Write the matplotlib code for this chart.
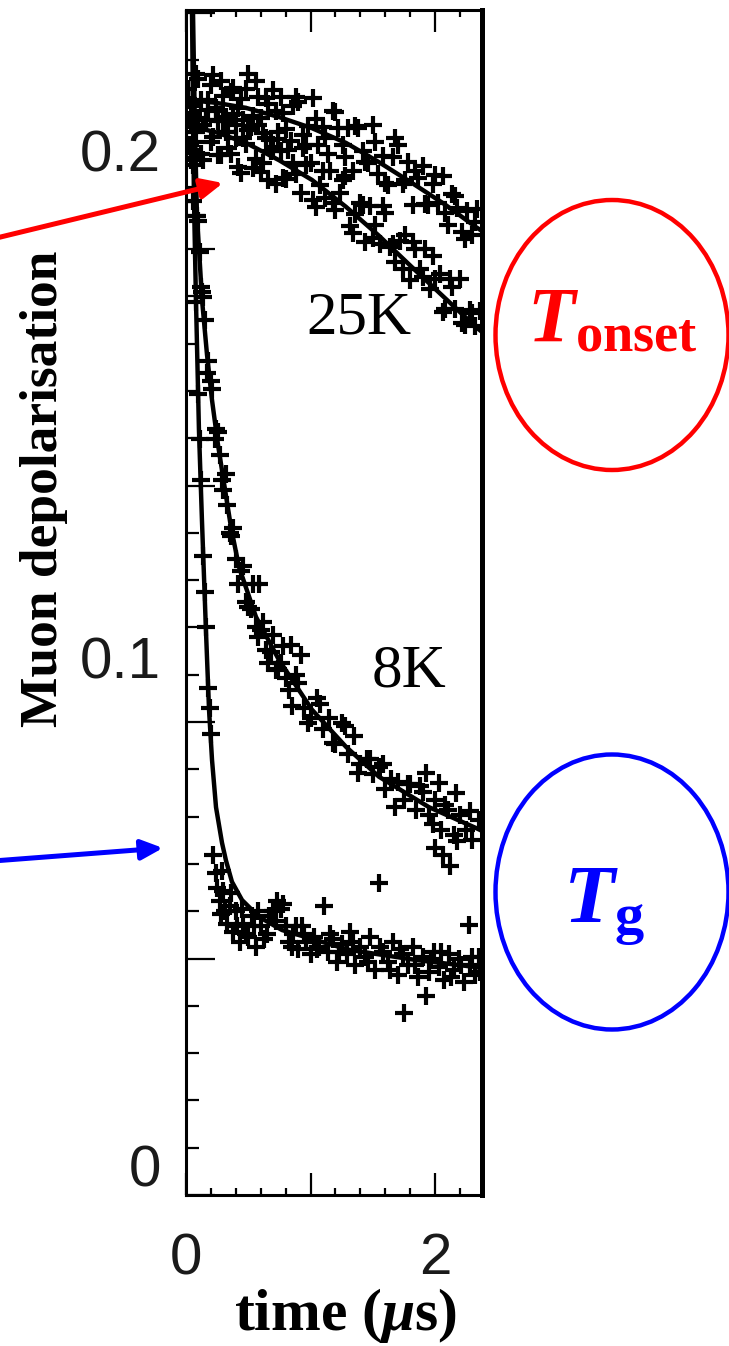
import numpy as np
import matplotlib.pyplot as plt
from matplotlib.patches import Ellipse, FancyArrowPatch
from matplotlib.ticker import FixedLocator, MultipleLocator, FixedFormatter

plt.rcParams['mathtext.fontset'] = 'custom'
plt.rcParams['mathtext.rm'] = 'Liberation Serif'
plt.rcParams['mathtext.bf'] = 'Liberation Serif:bold'
plt.rcParams['mathtext.it'] = 'Liberation Serif:italic'
plt.rcParams['mathtext.bfit'] = 'Liberation Serif:bold:italic'

# ---- data (time in microseconds, depolarisation) ----
# upper curve (slowest relaxation)
t_a = [0.02, 0.06, 0.10, 0.14, 0.18, 0.22, 0.26, 0.30, 0.34, 0.38, 0.42, 0.46, 0.50, 0.54, 0.58,
       0.62, 0.66, 0.70, 0.74, 0.78, 0.82, 0.86, 0.90, 0.94, 0.98, 1.02, 1.06, 1.10, 1.14, 1.18,
       1.22, 1.26, 1.30, 1.34, 1.38, 1.42, 1.46, 1.50, 1.54, 1.58, 1.62, 1.66, 1.70, 1.74, 1.78,
       1.82, 1.86, 1.90, 1.94, 1.98, 2.02, 2.06, 2.10, 2.14, 2.18, 2.22, 2.26, 2.30, 2.34,
       0.04, 0.08, 0.12, 0.16, 0.20, 0.24, 0.28, 0.32, 0.36, 0.40, 0.44, 0.48, 0.52, 0.56, 0.60,
       0.64, 0.68, 0.72, 0.76, 0.80, 0.88, 0.96, 1.04, 1.12, 1.20, 1.28, 1.36, 1.44, 1.52, 1.60,
       1.68, 1.76, 1.84, 1.92, 2.00, 2.08, 2.16, 2.24, 2.32]
y_a = [0.2120, 0.2070, 0.2140, 0.2049, 0.2099, 0.2148, 0.2057, 0.2106, 0.2035, 0.2123, 0.2082,
       0.2060, 0.2149, 0.2067, 0.2105, 0.2033, 0.2090, 0.2118, 0.2035, 0.2073, 0.2000, 0.2087,
       0.2094, 0.2030, 0.2047, 0.2103, 0.2009, 0.2046, 0.1992, 0.2077, 0.2043, 0.2009, 0.2044,
       0.1959, 0.2044, 0.1999, 0.1974, 0.2049, 0.1953, 0.1988, 0.1932, 0.1986, 0.2010, 0.1934,
       0.1977, 0.1891, 0.1944, 0.1968, 0.1891, 0.1934, 0.1896, 0.1949, 0.1852, 0.1914, 0.1886,
       0.1838, 0.1880, 0.1832, 0.1884,
       0.2050, 0.2150, 0.2099, 0.2059, 0.2128, 0.2077, 0.2136, 0.2065, 0.2114, 0.2023, 0.2101,
       0.2120, 0.2048, 0.2136, 0.2064, 0.2102, 0.2019, 0.2077, 0.2104, 0.2041, 0.2105, 0.2009,
       0.2061, 0.2024, 0.2075, 0.1986, 0.2047, 0.1977, 0.2016, 0.1935, 0.2023, 0.1941, 0.1958,
       0.1894, 0.1950, 0.1875, 0.1910, 0.1824, 0.1858]
fit_t_a = [0.0, 0.241, 0.482, 0.747, 1.012, 1.285, 1.550, 1.815, 2.072, 2.329, 2.38]
fit_y_a = [0.2099, 0.2093, 0.2083, 0.2065, 0.2043, 0.2014, 0.1976, 0.1935, 0.1894, 0.1848, 0.1840]

# 25K
t_b = [0.00, 0.04, 0.08, 0.12, 0.16, 0.20, 0.24, 0.28, 0.32, 0.36, 0.40, 0.44, 0.48, 0.52, 0.56,
       0.60, 0.64, 0.68, 0.72, 0.76, 0.80, 0.84, 0.88, 0.92, 0.96, 1.00, 1.04, 1.08, 1.12, 1.16,
       1.20, 1.24, 1.28, 1.32, 1.36, 1.40, 1.44, 1.48, 1.52, 1.56, 1.60, 1.64, 1.68, 1.72, 1.76,
       1.80, 1.84, 1.88, 1.92, 1.96, 2.00, 2.04, 2.08, 2.12, 2.16, 2.20, 2.24, 2.28, 2.32, 2.36,
       0.02, 0.06, 0.10, 0.14, 0.18, 0.22, 0.26, 0.30, 0.34, 0.38, 0.42, 0.46, 0.50, 0.54, 0.58,
       0.62, 0.66, 0.70, 0.74, 0.78, 0.86, 0.94, 1.02, 1.10, 1.18, 1.26, 1.34, 1.42, 1.50, 1.58,
       1.66, 1.74, 1.82, 1.90, 1.98, 2.06, 2.14, 2.22, 2.30]
y_b = [0.2020, 0.2088, 0.2035, 0.1992, 0.2059, 0.2016, 0.2083, 0.1990, 0.2036, 0.1992, 0.2049,
       0.1955, 0.2011, 0.2046, 0.1982, 0.1957, 0.2023, 0.1998, 0.1933, 0.1998, 0.1943, 0.2017,
       0.1952, 0.1916, 0.1970, 0.1974, 0.1888, 0.1931, 0.1905, 0.1958, 0.1882, 0.1915, 0.1948,
       0.1851, 0.1873, 0.1896, 0.1818, 0.1890, 0.1852, 0.1814, 0.1876, 0.1808, 0.1779, 0.1821,
       0.1832, 0.1743, 0.1804, 0.1765, 0.1805, 0.1726, 0.1746, 0.1756, 0.1686, 0.1746, 0.1686,
       0.1745, 0.1655, 0.1684, 0.1653, 0.1682,
       0.2099, 0.2016, 0.2064, 0.1981, 0.2078, 0.2025, 0.1991, 0.2058, 0.2004, 0.2071, 0.1967,
       0.2023, 0.2039, 0.1964, 0.2050, 0.1975, 0.1940, 0.2005, 0.2021, 0.1945, 0.1974, 0.2003,
       0.1901, 0.1958, 0.1895, 0.1941, 0.1837, 0.1892, 0.1826, 0.1890, 0.1814, 0.1766, 0.1818,
       0.1750, 0.1791, 0.1681, 0.1731, 0.1660, 0.1679]
fit_t_b = [0.0, 0.241, 0.482, 0.747, 1.012, 1.285, 1.550, 1.815, 2.072, 2.329, 2.38]
fit_y_b = [0.2049, 0.2035, 0.2014, 0.1980, 0.1941, 0.1888, 0.1831, 0.1769, 0.1710, 0.1651, 0.1641]

# 8K
t_c = [0.01, 0.03, 0.05, 0.07, 0.09, 0.11, 0.13, 0.15, 0.18, 0.21, 0.24, 0.27, 0.30, 0.33, 0.36,
       0.40, 0.44, 0.48, 0.52, 0.56, 0.60, 0.64, 0.68, 0.72, 0.76, 0.80, 0.85, 0.90, 0.95, 1.00,
       1.05, 1.10, 1.15, 1.20, 1.25, 1.30, 1.35, 1.40, 1.45, 1.50, 1.55, 1.60, 1.65, 1.70, 1.75,
       1.80, 1.85, 1.90, 1.95, 2.00, 2.05, 2.10, 2.15, 2.20, 2.25, 2.30, 2.35,
       0.59, 0.84, 0.92, 1.93, 2.03, 2.17, 2.00, 2.06, 2.12,
       0.02, 0.04, 0.06, 0.08, 0.10, 0.12, 0.14, 0.17, 0.20, 0.23, 0.26, 0.29, 0.32, 0.35, 0.38,
       0.42, 0.46, 0.50, 0.54, 0.58, 0.62, 0.66, 0.70, 0.74, 0.78, 0.83, 0.88, 0.98, 1.08, 1.18,
       1.28, 1.38, 1.48, 1.58, 1.68, 1.78, 1.88, 1.98, 2.08, 2.18, 2.28]
y_c = [0.2060, 0.2010, 0.1985, 0.1925, 0.1870, 0.1800, 0.1720, 0.1665, 0.1585, 0.1530, 0.1450,
       0.1400, 0.1330, 0.1300, 0.1240, 0.1195, 0.1170, 0.1110, 0.1095, 0.1060, 0.1055, 0.1015,
       0.1010, 0.0975, 0.0990, 0.0960, 0.0905, 0.0950, 0.0900, 0.0880, 0.0920, 0.0860, 0.0880,
       0.0830, 0.0870, 0.0810, 0.0845, 0.0790, 0.0800, 0.0770, 0.0785, 0.0740, 0.0760, 0.0755,
       0.0720, 0.0750, 0.0700, 0.0735, 0.0690, 0.0720, 0.0660, 0.0700, 0.0650, 0.0690, 0.0660,
       0.0640, 0.0680,
       0.1145, 0.1025, 0.1005, 0.0772, 0.0753, 0.0733, 0.0625, 0.0610, 0.0590,
       0.2060, 0.1980, 0.1970, 0.1870, 0.1860, 0.1730, 0.1710, 0.1560, 0.1545, 0.1430, 0.1445,
       0.1350, 0.1362, 0.1245, 0.1255, 0.1145, 0.1180, 0.1100, 0.1145, 0.1040, 0.1070, 0.0990,
       0.1045, 0.0978, 0.1023, 0.0935, 0.0966, 0.0870, 0.0908, 0.0831, 0.0865, 0.0772, 0.0800,
       0.0790, 0.0705, 0.0750, 0.0746, 0.0672, 0.0710, 0.0639, 0.0698]
fit_t_c = [0.032, 0.056, 0.072, 0.088, 0.129, 0.169, 0.209, 0.257, 0.305, 0.361, 0.426, 0.562,
           0.747, 1.012, 1.285, 1.550, 1.952, 2.329, 2.38]
fit_y_c = [0.2591, 0.2276, 0.2039, 0.1872, 0.1704, 0.1596, 0.1507, 0.1419, 0.1344, 0.1257,
           0.1178, 0.1080, 0.0995, 0.0897, 0.0824, 0.0765, 0.0705, 0.0664, 0.0658]

# lowest temperature (fast relaxation)
t_d = [0.02, 0.04, 0.06, 0.08, 0.10, 0.12, 0.14, 0.16, 0.18, 0.20,
       0.22, 0.24, 0.27, 0.28, 0.30, 0.33, 0.35, 0.38, 0.40, 0.43, 0.46, 0.50, 0.53, 0.56, 0.60,
       0.63, 0.67, 0.70, 0.73, 0.76, 0.80, 0.83, 0.86, 0.90, 0.93, 0.96, 1.00, 1.03, 1.07, 1.11,
       1.14, 1.18, 1.21, 1.25, 1.29, 1.32, 1.36, 1.40, 1.44, 1.48, 1.52, 1.55, 1.58, 1.62, 1.66,
       1.70, 1.75, 1.74, 1.78, 1.82, 1.86, 1.90, 1.93, 1.95, 1.99, 2.03, 2.07, 2.11, 2.15, 2.19,
       2.23, 2.27, 2.28, 2.32, 2.35,
       0.11, 0.15, 0.19, 0.25, 0.29, 0.31, 0.36, 0.41, 0.45, 0.48, 0.55, 0.58, 0.65, 0.72, 0.78,
       0.85, 0.88, 0.95, 1.05, 1.16, 1.23, 1.34, 1.46, 1.56, 1.64, 1.72, 1.84, 1.97, 2.05, 2.13,
       2.21, 2.30, 2.36]
y_d = [0.2100, 0.2000, 0.1900, 0.1700, 0.1520, 0.1350, 0.1200, 0.1060, 0.0940, 0.0850,
       0.0610, 0.0575, 0.0520, 0.0495, 0.0540, 0.0475, 0.0510, 0.0460, 0.0500, 0.0440, 0.0475,
       0.0450, 0.0490, 0.0430, 0.0470, 0.0445, 0.0490, 0.0500, 0.0520, 0.0505, 0.0470, 0.0440,
       0.0455, 0.0425, 0.0470, 0.0440, 0.0415, 0.0450, 0.0430, 0.0510, 0.0420, 0.0445, 0.0400,
       0.0435, 0.0415, 0.0460, 0.0395, 0.0430, 0.0410, 0.0450, 0.0385, 0.0556, 0.0420, 0.0400,
       0.0440, 0.0375, 0.0300, 0.0415, 0.0395, 0.0430, 0.0370, 0.0410, 0.0333, 0.0380, 0.0420,
       0.0390, 0.0365, 0.0415, 0.0385, 0.0405, 0.0360, 0.0473, 0.0395, 0.0375, 0.0410,
       0.1430, 0.1130, 0.0900, 0.0545, 0.0580, 0.0500, 0.0535, 0.0470, 0.0505, 0.0455, 0.0470,
       0.0500, 0.0455, 0.0480, 0.0515, 0.0430, 0.0470, 0.0455, 0.0425, 0.0455, 0.0420, 0.0440,
       0.0400, 0.0430, 0.0385, 0.0425, 0.0395, 0.0405, 0.0420, 0.0370, 0.0395, 0.0410, 0.0380]
fit_t_d = [0.024, 0.048, 0.064, 0.080, 0.104, 0.128, 0.161, 0.185, 0.209, 0.241, 0.289, 0.321,
           0.369, 0.450, 0.586, 0.771, 1.309, 1.847, 2.329, 2.38]
fit_y_d = [0.2591, 0.2276, 0.1901, 0.1704, 0.1448, 0.1271, 0.1048, 0.0897, 0.0798, 0.0705,
           0.0635, 0.0600, 0.0558, 0.0522, 0.0489, 0.0463, 0.0424, 0.0404, 0.0390, 0.0388]

y_labels = [0, 0.1, 0.2]
y_label_text = ['0', '0.1', '0.2']
x_labels = [0, 1, 2]
x_label_text = ['0', '', '2']

W, H = 729, 1346
fig = plt.figure(figsize=(W / 100, H / 100), dpi=100)
ax = fig.add_axes([186 / W, 1 - 1195 / H, 296 / W, 1185 / H])

ymin, ymax = -0.00591, 0.22759
ax.set_xlim(0, 2.377)
ax.set_ylim(ymin, ymax)

for tt, yy in [(t_a, y_a), (t_b, y_b), (t_c, y_c), (t_d, y_d)]:
    ax.plot(tt, yy, '+', ms=13.5, mew=3.0, color='black', zorder=2)
for tt, yy in [(fit_t_a, fit_y_a), (fit_t_b, fit_y_b), (fit_t_c, fit_y_c), (fit_t_d, fit_y_d)]:
    ax.plot(tt, yy, '-', lw=3.2, color='black', zorder=3, solid_joinstyle='round')

# ticks
step = 0.009320
yt = ymin + step * np.arange(0, 26)
ax.yaxis.set_major_locator(FixedLocator(yt[::5]))
ax.yaxis.set_minor_locator(FixedLocator(yt))
ax.xaxis.set_major_locator(FixedLocator(x_labels))
ax.xaxis.set_major_formatter(FixedFormatter(x_label_text))
ax.xaxis.set_minor_locator(MultipleLocator(0.2))
ax.tick_params(axis='x', which='both', direction='in', top=True, bottom=True, width=1.6, color='black')
ax.tick_params(axis='x', which='major', length=16, pad=27, labelsize=42, labelcolor='#1a1a1a')
ax.tick_params(axis='x', which='minor', length=5)
ax.tick_params(axis='y', which='both', direction='in', left=True, right=False, labelleft=False, width=1.6)
ax.tick_params(axis='y', which='major', length=21)
ax.tick_params(axis='y', which='minor', length=9.5)
for lab in ax.get_xticklabels():
    lab.set_fontfamily('Liberation Sans')

sec = ax.secondary_yaxis('left')
sec.set_yticks(y_labels)
sec.set_yticklabels(y_label_text, fontfamily='Liberation Sans')
sec.tick_params(length=0, pad=18, labelsize=42, labelcolor='#1a1a1a')
sec.spines['left'].set_visible(False)

for s in ['left', 'top', 'bottom']:
    ax.spines[s].set_linewidth(2.2)
ax.spines['right'].set_linewidth(3.6)

ax.set_xlabel(r'$\mathbf{time\ (}\mathbfit{\mu}\mathbf{s)}$', fontsize=43, va='baseline', ha='center')
ax.xaxis.set_label_coords((345 - 186) / 296, (1195 - 1330) / 1185)
ax.set_ylabel('Muon depolarisation', fontsize=38.5, fontweight='bold', fontfamily='Liberation Serif',
              va='center', ha='center')
ax.yaxis.set_label_coords((44 - 186) / 296, (1195 - 489) / 1185)

ax.text(1.39, 0.1667, '25K', fontsize=44, fontfamily='Liberation Serif', ha='center', va='center')
ax.text(1.79, 0.0971, '8K', fontsize=44, fontfamily='Liberation Serif', ha='center', va='center')


def fp(x, y):
    return (x / W, 1 - y / H)


# circled labels
fig.patches.append(Ellipse(fp(612, 335), 233 / W, 270 / H, transform=fig.transFigure,
                           fill=False, edgecolor='#ff0000', lw=3.2))
fig.patches.append(Ellipse(fp(612, 892), 233 / W, 275 / H, transform=fig.transFigure,
                           fill=False, edgecolor='#0000ff', lw=3.2))
fig.text(*fp(612, 342), r'$\mathbfit{T}_{\mathbf{onset}}$', color='#ff0000', fontsize=56,
         ha='center', va='baseline')
fig.text(*fp(604, 922), r'$\mathbfit{T}_{\mathbf{g}}$', color='#0000ff', fontsize=60,
         ha='center', va='baseline')

# arrows
fig.patches.append(FancyArrowPatch(fp(-20, 242), fp(223, 183), transform=fig.transFigure,
                                   arrowstyle='-|>,head_length=0.65,head_width=0.3', mutation_scale=20,
                                   color='#ff0000', lw=3.6, shrinkA=0, shrinkB=0))
fig.patches.append(FancyArrowPatch(fp(-20, 862), fp(163, 848), transform=fig.transFigure,
                                   arrowstyle='-|>,head_length=0.65,head_width=0.3', mutation_scale=20,
                                   color='#0000ff', lw=3.6, shrinkA=0, shrinkB=0))

plt.savefig('out.png', dpi=100)
